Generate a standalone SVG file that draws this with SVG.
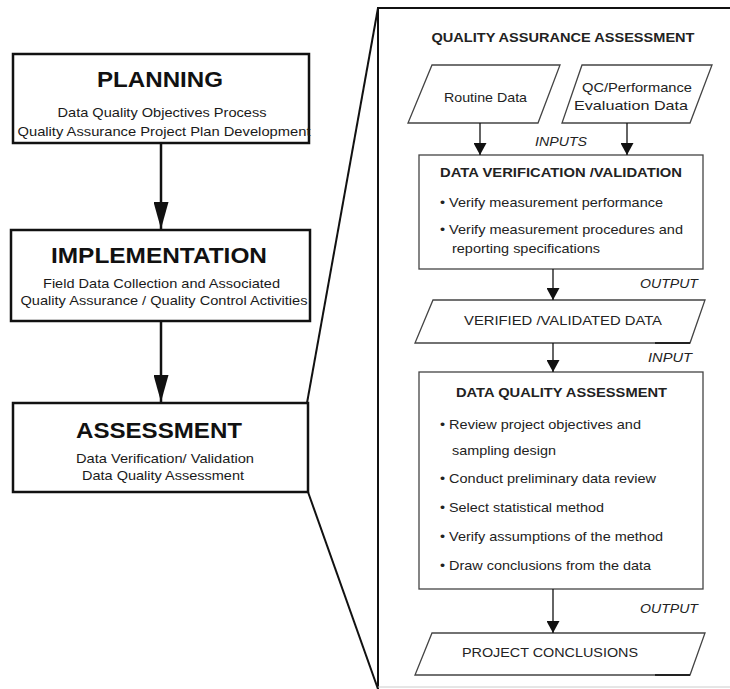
<svg xmlns="http://www.w3.org/2000/svg" width="730" height="689" viewBox="0 0 730 689">
<style>
text{font-family:"Liberation Sans",Arial,sans-serif;fill:#1a1a1a}
.big{font-size:22px;font-weight:bold;text-anchor:middle;fill:#111}
.sub{font-size:13px;text-anchor:middle}
.lbox{fill:#fff;stroke:#111;stroke-width:2.5}
.rbox{fill:#fff;stroke:#444;stroke-width:1.3}
.hd{font-size:13px;font-weight:bold;text-anchor:middle;fill:#222}
.bul{font-size:13.5px;fill:#222}
.ctr{font-size:13.5px;text-anchor:middle;fill:#222}
.io{font-size:13px;font-style:italic;fill:#222}
.panel{fill:none;stroke:#111;stroke-width:2}
.bigc{stroke:#111;stroke-width:2.5;fill:none}
.smc{stroke:#111;stroke-width:1.3;fill:none}
.shadow{stroke:#222;stroke-width:2.2}
</style>
<defs>
<marker id="bigHead" markerUnits="userSpaceOnUse" viewBox="0 0 27 15" refX="27" refY="7.5" markerWidth="27" markerHeight="15" orient="auto"><path d="M0,0 L27,7.5 L0,15 z" fill="#111"/></marker>
<marker id="smHead" markerUnits="userSpaceOnUse" viewBox="0 0 12 13" refX="12" refY="6.5" markerWidth="12" markerHeight="13" orient="auto"><path d="M0,0 L12,6.5 L0,13 z" fill="#111"/></marker>
</defs>
<rect width="730" height="689" fill="#fff"/>

<g id="panel">
<path class="panel" d="M730,8 L378,8 L378,689"/>
<path class="panel" d="M378,8 L307,403"/>
<path class="panel" d="M308,492 L378,689"/>
<line x1="378" y1="687" x2="730" y2="687" stroke="#ccc" stroke-width="1"/>
<text class="hd" x="563" y="42" font-size="12.5" textLength="263" lengthAdjust="spacingAndGlyphs">QUALITY ASSURANCE ASSESSMENT</text>
</g>

<g id="planning">
<rect class="lbox" x="13" y="54" width="296" height="89"/>
<text class="big" x="160" y="87" textLength="126" lengthAdjust="spacingAndGlyphs">PLANNING</text>
<text class="sub" x="162" y="117" textLength="209" lengthAdjust="spacingAndGlyphs">Data Quality Objectives Process</text>
<text class="sub" x="164" y="136" textLength="293" lengthAdjust="spacingAndGlyphs">Quality Assurance Project Plan Development</text>
</g>

<g id="implementation">
<rect class="lbox" x="11" y="230" width="299" height="91"/>
<text class="big" x="159" y="263" textLength="216" lengthAdjust="spacingAndGlyphs">IMPLEMENTATION</text>
<text class="sub" x="161.5" y="288" textLength="237" lengthAdjust="spacingAndGlyphs">Field Data Collection and Associated</text>
<text class="sub" x="164" y="305" textLength="287" lengthAdjust="spacingAndGlyphs">Quality Assurance / Quality Control Activities</text>
</g>

<g id="assessment">
<rect class="lbox" x="13" y="403" width="295" height="89"/>
<text class="big" x="159" y="438" textLength="166" lengthAdjust="spacingAndGlyphs">ASSESSMENT</text>
<text class="sub" x="165" y="463" textLength="178" lengthAdjust="spacingAndGlyphs">Data Verification/ Validation</text>
<text class="sub" x="163" y="480" textLength="162" lengthAdjust="spacingAndGlyphs">Data Quality Assessment</text>
</g>

<g id="routine-data">
<path class="rbox" d="M432,65 L560,65 L538,123 L408,123 Z"/>
<text class="ctr" x="485.5" y="102" textLength="83" lengthAdjust="spacingAndGlyphs">Routine Data</text>
</g>

<g id="qc-data">
<path class="rbox" d="M582,65 L712,65 L690,123 L562,123 Z"/>
<text class="ctr" x="637" y="92" textLength="110" lengthAdjust="spacingAndGlyphs">QC/Performance</text>
<text class="ctr" x="631" y="110" textLength="114" lengthAdjust="spacingAndGlyphs">Evaluation Data</text>
</g>

<g id="verification">
<rect class="rbox" x="419" y="155" width="284" height="114"/>
<text class="hd" x="561" y="177" textLength="242" lengthAdjust="spacingAndGlyphs">DATA VERIFICATION /VALIDATION</text>
<text class="bul" x="440" y="207" textLength="223" lengthAdjust="spacingAndGlyphs">• Verify measurement performance</text>
<text class="bul" x="440" y="234" textLength="243" lengthAdjust="spacingAndGlyphs">• Verify measurement procedures and</text>
<text class="bul" x="452" y="253" textLength="148" lengthAdjust="spacingAndGlyphs">reporting specifications</text>
</g>

<g id="verified-data">
<path class="rbox" d="M433,300 L705,300 L690,343 L415,343 Z"/>
<line class="shadow" x1="655" y1="343" x2="690" y2="343"/>
<text class="ctr" x="563" y="325" textLength="198" lengthAdjust="spacingAndGlyphs">VERIFIED /VALIDATED DATA</text>
</g>

<g id="dqa">
<rect class="rbox" x="419" y="372" width="284" height="217"/>
<text class="hd" x="561.5" y="397" textLength="211" lengthAdjust="spacingAndGlyphs">DATA QUALITY ASSESSMENT</text>
<text class="bul" x="440" y="429" textLength="201" lengthAdjust="spacingAndGlyphs">• Review project objectives and</text>
<text class="bul" x="452" y="455" textLength="104" lengthAdjust="spacingAndGlyphs">sampling design</text>
<text class="bul" x="440" y="483" textLength="216" lengthAdjust="spacingAndGlyphs">• Conduct preliminary data review</text>
<text class="bul" x="440" y="512" textLength="164" lengthAdjust="spacingAndGlyphs">• Select statistical method</text>
<text class="bul" x="440" y="541" textLength="223" lengthAdjust="spacingAndGlyphs">• Verify assumptions of the method</text>
<text class="bul" x="440" y="570" textLength="211" lengthAdjust="spacingAndGlyphs">• Draw conclusions from the data</text>
</g>

<g id="project-conclusions">
<path class="rbox" d="M432,633 L705,633 L690,675 L415,675 Z"/>
<line class="shadow" x1="655" y1="675" x2="690" y2="675"/>
<text class="ctr" x="550" y="657" textLength="176" lengthAdjust="spacingAndGlyphs">PROJECT CONCLUSIONS</text>
</g>

<g id="connectors">
<line class="bigc" x1="161" y1="143" x2="161" y2="229" marker-end="url(#bigHead)"/>
<line class="bigc" x1="161" y1="321" x2="161" y2="402" marker-end="url(#bigHead)"/>
<line class="smc" x1="480" y1="123" x2="480" y2="155" marker-end="url(#smHead)"/>
<line class="smc" x1="627" y1="123" x2="627" y2="155" marker-end="url(#smHead)"/>
<line class="smc" x1="553" y1="269" x2="553" y2="300" marker-end="url(#smHead)"/>
<line class="smc" x1="553" y1="343" x2="553" y2="372" marker-end="url(#smHead)"/>
<line class="smc" x1="553" y1="589" x2="553" y2="633" marker-end="url(#smHead)"/>
<text class="io" x="561" y="146" text-anchor="middle" textLength="52" lengthAdjust="spacingAndGlyphs">INPUTS</text>
<text class="io" x="698" y="288" text-anchor="end" textLength="58" lengthAdjust="spacingAndGlyphs">OUTPUT</text>
<text class="io" x="692" y="362" text-anchor="end" textLength="44" lengthAdjust="spacingAndGlyphs">INPUT</text>
<text class="io" x="698" y="613" text-anchor="end" textLength="58" lengthAdjust="spacingAndGlyphs">OUTPUT</text>
</g>
</svg>
